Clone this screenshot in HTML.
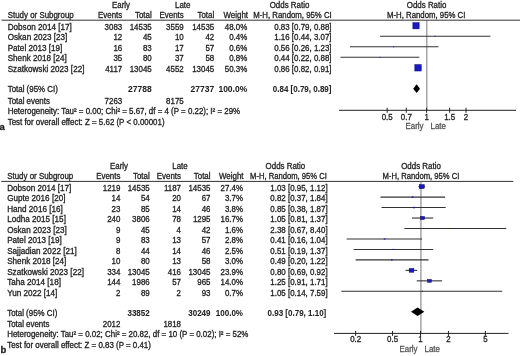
<!DOCTYPE html>
<html><head><meta charset="utf-8"><style>
html,body{margin:0;padding:0;background:#fff;width:520px;height:356px;overflow:hidden}
svg{display:block}
text{font-family:"Liberation Sans",sans-serif;font-size:8.2px;fill:#222;stroke:#222;stroke-width:0.3px}
svg{filter:blur(0.3px)}
text.b{font-weight:bold;stroke-width:0.05px}
text.L{font-weight:bold;font-size:9.5px}
text.s{font-size:8.2px;fill:#555;stroke:#555}
</style></head><body>
<svg width="520" height="356" viewBox="0 0 520 356">
<text x="121.00" y="7.50" text-anchor="middle" textLength="18.04" lengthAdjust="spacingAndGlyphs">Early</text>
<text x="182.75" y="7.50" text-anchor="middle" textLength="15.41" lengthAdjust="spacingAndGlyphs">Late</text>
<text x="289.50" y="7.50" text-anchor="middle" textLength="39.62" lengthAdjust="spacingAndGlyphs">Odds Ratio</text>
<text x="426.60" y="7.50" text-anchor="middle" textLength="39.62" lengthAdjust="spacingAndGlyphs">Odds Ratio</text>
<text x="7.70" y="18.00" textLength="66.04" lengthAdjust="spacingAndGlyphs">Study or Subgroup</text>
<text x="122.20" y="18.00" text-anchor="end" textLength="24.21" lengthAdjust="spacingAndGlyphs">Events</text>
<text x="151.70" y="18.00" text-anchor="end" textLength="16.73" lengthAdjust="spacingAndGlyphs">Total</text>
<text x="183.70" y="18.00" text-anchor="end" textLength="24.21" lengthAdjust="spacingAndGlyphs">Events</text>
<text x="214.20" y="18.00" text-anchor="end" textLength="16.73" lengthAdjust="spacingAndGlyphs">Total</text>
<text x="248.00" y="18.00" text-anchor="end" textLength="24.51" lengthAdjust="spacingAndGlyphs">Weight</text>
<text x="292.50" y="18.00" text-anchor="middle" textLength="78.46" lengthAdjust="spacingAndGlyphs">M-H, Random, 95% CI</text>
<text x="426.20" y="18.00" text-anchor="middle" textLength="78.46" lengthAdjust="spacingAndGlyphs">M-H, Random, 95% CI</text>
<line x1="1.50" y1="20.20" x2="520.00" y2="20.20" stroke="#333" stroke-width="1"/>
<line x1="426.85" y1="20.20" x2="426.85" y2="110.30" stroke="#777" stroke-width="1"/>
<text x="7.70" y="29.50" textLength="64.11" lengthAdjust="spacingAndGlyphs">Dobson 2014 [17]</text>
<text x="122.20" y="29.50" text-anchor="end" textLength="17.62" lengthAdjust="spacingAndGlyphs">3083</text>
<text x="151.70" y="29.50" text-anchor="end" textLength="22.02" lengthAdjust="spacingAndGlyphs">14535</text>
<text x="183.70" y="29.50" text-anchor="end" textLength="17.62" lengthAdjust="spacingAndGlyphs">3559</text>
<text x="214.20" y="29.50" text-anchor="end" textLength="22.02" lengthAdjust="spacingAndGlyphs">14535</text>
<text x="247.20" y="29.50" text-anchor="end" textLength="22.46" lengthAdjust="spacingAndGlyphs">48.0%</text>
<text x="331.50" y="29.50" text-anchor="end" textLength="57.25" lengthAdjust="spacingAndGlyphs">0.83 [0.79, 0.88]</text>
<line x1="413.19" y1="25.76" x2="419.33" y2="25.76" stroke="#333" stroke-width="1.1"/>
<rect x="412.88" y="22.64" width="6.24" height="6.24" fill="#1a1ac0" stroke="#000070" stroke-width="0.5"/>
<text x="7.70" y="40.00" textLength="59.59" lengthAdjust="spacingAndGlyphs">Oskan 2023 [23]</text>
<text x="122.20" y="40.00" text-anchor="end" textLength="8.81" lengthAdjust="spacingAndGlyphs">12</text>
<text x="151.70" y="40.00" text-anchor="end" textLength="8.81" lengthAdjust="spacingAndGlyphs">45</text>
<text x="183.70" y="40.00" text-anchor="end" textLength="8.81" lengthAdjust="spacingAndGlyphs">10</text>
<text x="214.20" y="40.00" text-anchor="end" textLength="8.81" lengthAdjust="spacingAndGlyphs">42</text>
<text x="247.20" y="40.00" text-anchor="end" textLength="18.05" lengthAdjust="spacingAndGlyphs">0.4%</text>
<text x="331.50" y="40.00" text-anchor="end" textLength="57.25" lengthAdjust="spacingAndGlyphs">1.16 [0.44, 3.07]</text>
<line x1="379.89" y1="36.28" x2="490.42" y2="36.28" stroke="#333" stroke-width="1.1"/>
<rect x="434.55" y="35.78" width="1.00" height="1.00" fill="#1a1ac0"/>
<text x="7.70" y="50.50" textLength="54.63" lengthAdjust="spacingAndGlyphs">Patel 2013 [19]</text>
<text x="122.20" y="50.50" text-anchor="end" textLength="8.81" lengthAdjust="spacingAndGlyphs">16</text>
<text x="151.70" y="50.50" text-anchor="end" textLength="8.81" lengthAdjust="spacingAndGlyphs">83</text>
<text x="183.70" y="50.50" text-anchor="end" textLength="8.81" lengthAdjust="spacingAndGlyphs">17</text>
<text x="214.20" y="50.50" text-anchor="end" textLength="8.81" lengthAdjust="spacingAndGlyphs">57</text>
<text x="247.20" y="50.50" text-anchor="end" textLength="18.05" lengthAdjust="spacingAndGlyphs">0.6%</text>
<text x="331.50" y="50.50" text-anchor="end" textLength="57.25" lengthAdjust="spacingAndGlyphs">0.56 [0.26, 1.23]</text>
<line x1="349.95" y1="46.79" x2="438.38" y2="46.79" stroke="#333" stroke-width="1.1"/>
<rect x="393.11" y="46.29" width="1.00" height="1.00" fill="#1a1ac0"/>
<text x="7.70" y="61.00" textLength="59.14" lengthAdjust="spacingAndGlyphs">Shenk 2018 [24]</text>
<text x="122.20" y="61.00" text-anchor="end" textLength="8.81" lengthAdjust="spacingAndGlyphs">35</text>
<text x="151.70" y="61.00" text-anchor="end" textLength="8.81" lengthAdjust="spacingAndGlyphs">80</text>
<text x="183.70" y="61.00" text-anchor="end" textLength="8.81" lengthAdjust="spacingAndGlyphs">37</text>
<text x="214.20" y="61.00" text-anchor="end" textLength="8.81" lengthAdjust="spacingAndGlyphs">58</text>
<text x="247.20" y="61.00" text-anchor="end" textLength="18.05" lengthAdjust="spacingAndGlyphs">0.8%</text>
<text x="331.50" y="61.00" text-anchor="end" textLength="57.25" lengthAdjust="spacingAndGlyphs">0.44 [0.22, 0.88]</text>
<line x1="340.45" y1="57.31" x2="419.33" y2="57.31" stroke="#333" stroke-width="1.1"/>
<rect x="379.39" y="56.81" width="1.00" height="1.00" fill="#1a1ac0"/>
<text x="7.70" y="71.50" textLength="76.73" lengthAdjust="spacingAndGlyphs">Szatkowski 2023 [22]</text>
<text x="122.20" y="71.50" text-anchor="end" textLength="17.03" lengthAdjust="spacingAndGlyphs">4117</text>
<text x="151.70" y="71.50" text-anchor="end" textLength="22.02" lengthAdjust="spacingAndGlyphs">13045</text>
<text x="183.70" y="71.50" text-anchor="end" textLength="17.62" lengthAdjust="spacingAndGlyphs">4552</text>
<text x="214.20" y="71.50" text-anchor="end" textLength="22.02" lengthAdjust="spacingAndGlyphs">13045</text>
<text x="247.20" y="71.50" text-anchor="end" textLength="22.46" lengthAdjust="spacingAndGlyphs">50.3%</text>
<text x="331.50" y="71.50" text-anchor="end" textLength="57.25" lengthAdjust="spacingAndGlyphs">0.86 [0.82, 0.91]</text>
<line x1="415.31" y1="67.82" x2="421.23" y2="67.82" stroke="#333" stroke-width="1.1"/>
<rect x="414.83" y="64.63" width="6.38" height="6.38" fill="#1a1ac0" stroke="#000070" stroke-width="0.5"/>
<text x="7.70" y="92.30" textLength="50.18" lengthAdjust="spacingAndGlyphs">Total (95% CI)</text>
<text x="151.70" y="92.30" text-anchor="end" class="b" textLength="23.58" lengthAdjust="spacingAndGlyphs">27788</text>
<text x="214.20" y="92.30" text-anchor="end" class="b" textLength="23.58" lengthAdjust="spacingAndGlyphs">27737</text>
<text x="247.20" y="92.30" text-anchor="end" class="b" textLength="28.76" lengthAdjust="spacingAndGlyphs">100.0%</text>
<text x="331.50" y="92.30" text-anchor="end" class="b" textLength="58.71" lengthAdjust="spacingAndGlyphs">0.84 [0.79, 0.89]</text>
<polygon points="413.19,88.70 416.68,84.30 419.97,88.70 416.68,93.10" fill="#000"/>
<text x="7.70" y="103.70" textLength="42.26" lengthAdjust="spacingAndGlyphs">Total events</text>
<text x="122.20" y="103.70" text-anchor="end" textLength="17.62" lengthAdjust="spacingAndGlyphs">7263</text>
<text x="183.70" y="103.70" text-anchor="end" textLength="17.62" lengthAdjust="spacingAndGlyphs">8175</text>
<text x="7.70" y="114.40" textLength="232.39" lengthAdjust="spacingAndGlyphs">Heterogeneity: Tau² = 0.00; Chi² = 5.67, df = 4 (P = 0.22); I² = 29%</text>
<text x="7.70" y="124.70" textLength="156.88" lengthAdjust="spacingAndGlyphs">Test for overall effect: Z = 5.62 (P &lt; 0.00001)</text>
<text x="-0.40" y="130.00" class="L">a</text>
<line x1="339.00" y1="110.30" x2="516.00" y2="110.30" stroke="#222" stroke-width="1"/>
<line x1="387.16" y1="107.80" x2="387.16" y2="112.80" stroke="#222" stroke-width="1"/>
<text x="387.16" y="119.60" text-anchor="middle" textLength="11.01" lengthAdjust="spacingAndGlyphs">0.5</text>
<line x1="406.31" y1="107.80" x2="406.31" y2="112.80" stroke="#222" stroke-width="1"/>
<text x="406.31" y="119.60" text-anchor="middle" textLength="11.01" lengthAdjust="spacingAndGlyphs">0.7</text>
<line x1="426.60" y1="107.80" x2="426.60" y2="112.80" stroke="#222" stroke-width="1"/>
<text x="426.60" y="119.60" text-anchor="middle" textLength="4.40" lengthAdjust="spacingAndGlyphs">1</text>
<line x1="449.67" y1="107.80" x2="449.67" y2="112.80" stroke="#222" stroke-width="1"/>
<text x="449.67" y="119.60" text-anchor="middle" textLength="11.01" lengthAdjust="spacingAndGlyphs">1.5</text>
<line x1="466.04" y1="107.80" x2="466.04" y2="112.80" stroke="#222" stroke-width="1"/>
<text x="466.04" y="119.60" text-anchor="middle" textLength="4.40" lengthAdjust="spacingAndGlyphs">2</text>
<text x="423.50" y="128.50" text-anchor="end" class="s" textLength="18.04" lengthAdjust="spacingAndGlyphs">Early</text>
<text x="430.50" y="128.50" class="s" textLength="15.41" lengthAdjust="spacingAndGlyphs">Late</text>
<text x="119.00" y="168.80" text-anchor="middle" textLength="18.04" lengthAdjust="spacingAndGlyphs">Early</text>
<text x="180.00" y="168.80" text-anchor="middle" textLength="15.41" lengthAdjust="spacingAndGlyphs">Late</text>
<text x="285.40" y="168.80" text-anchor="middle" textLength="39.62" lengthAdjust="spacingAndGlyphs">Odds Ratio</text>
<text x="421.00" y="168.80" text-anchor="middle" textLength="39.62" lengthAdjust="spacingAndGlyphs">Odds Ratio</text>
<text x="7.20" y="179.00" textLength="66.04" lengthAdjust="spacingAndGlyphs">Study or Subgroup</text>
<text x="120.40" y="179.00" text-anchor="end" textLength="24.21" lengthAdjust="spacingAndGlyphs">Events</text>
<text x="149.70" y="179.00" text-anchor="end" textLength="16.73" lengthAdjust="spacingAndGlyphs">Total</text>
<text x="181.00" y="179.00" text-anchor="end" textLength="24.21" lengthAdjust="spacingAndGlyphs">Events</text>
<text x="210.50" y="179.00" text-anchor="end" textLength="16.73" lengthAdjust="spacingAndGlyphs">Total</text>
<text x="243.50" y="179.00" text-anchor="end" textLength="24.51" lengthAdjust="spacingAndGlyphs">Weight</text>
<text x="288.50" y="179.00" text-anchor="middle" textLength="76.85" lengthAdjust="spacingAndGlyphs">M-H, Random, 95% CI</text>
<text x="420.90" y="179.00" text-anchor="middle" textLength="76.85" lengthAdjust="spacingAndGlyphs">M-H, Random, 95% CI</text>
<line x1="1.20" y1="181.40" x2="513.30" y2="181.40" stroke="#333" stroke-width="1"/>
<line x1="420.95" y1="181.40" x2="420.95" y2="333.40" stroke="#777" stroke-width="1"/>
<text x="7.20" y="190.90" textLength="64.11" lengthAdjust="spacingAndGlyphs">Dobson 2014 [17]</text>
<text x="120.40" y="190.90" text-anchor="end" textLength="17.62" lengthAdjust="spacingAndGlyphs">1219</text>
<text x="149.70" y="190.90" text-anchor="end" textLength="22.02" lengthAdjust="spacingAndGlyphs">14535</text>
<text x="181.00" y="190.90" text-anchor="end" textLength="17.03" lengthAdjust="spacingAndGlyphs">1187</text>
<text x="210.50" y="190.90" text-anchor="end" textLength="22.02" lengthAdjust="spacingAndGlyphs">14535</text>
<text x="243.00" y="190.90" text-anchor="end" textLength="22.46" lengthAdjust="spacingAndGlyphs">27.4%</text>
<text x="327.60" y="190.90" text-anchor="end" textLength="57.25" lengthAdjust="spacingAndGlyphs">1.03 [0.95, 1.12]</text>
<line x1="418.43" y1="186.63" x2="425.07" y2="186.63" stroke="#333" stroke-width="1.1"/>
<rect x="419.20" y="184.67" width="4.97" height="3.93" fill="#1a1ac0" stroke="#000070" stroke-width="0.5"/>
<text x="7.20" y="201.36" textLength="58.24" lengthAdjust="spacingAndGlyphs">Gupte 2016 [20]</text>
<text x="120.40" y="201.36" text-anchor="end" textLength="8.81" lengthAdjust="spacingAndGlyphs">14</text>
<text x="149.70" y="201.36" text-anchor="end" textLength="8.81" lengthAdjust="spacingAndGlyphs">54</text>
<text x="181.00" y="201.36" text-anchor="end" textLength="8.81" lengthAdjust="spacingAndGlyphs">20</text>
<text x="210.50" y="201.36" text-anchor="end" textLength="8.81" lengthAdjust="spacingAndGlyphs">67</text>
<text x="243.00" y="201.36" text-anchor="end" textLength="18.05" lengthAdjust="spacingAndGlyphs">3.7%</text>
<text x="327.60" y="201.36" text-anchor="end" textLength="57.25" lengthAdjust="spacingAndGlyphs">0.82 [0.37, 1.84]</text>
<line x1="380.43" y1="197.10" x2="445.07" y2="197.10" stroke="#333" stroke-width="1.1"/>
<rect x="411.59" y="196.38" width="1.83" height="1.44" fill="#1a1ac0"/>
<text x="7.20" y="211.82" textLength="55.53" lengthAdjust="spacingAndGlyphs">Hand 2016 [16]</text>
<text x="120.40" y="211.82" text-anchor="end" textLength="8.81" lengthAdjust="spacingAndGlyphs">23</text>
<text x="149.70" y="211.82" text-anchor="end" textLength="8.81" lengthAdjust="spacingAndGlyphs">85</text>
<text x="181.00" y="211.82" text-anchor="end" textLength="8.81" lengthAdjust="spacingAndGlyphs">14</text>
<text x="210.50" y="211.82" text-anchor="end" textLength="8.81" lengthAdjust="spacingAndGlyphs">46</text>
<text x="243.00" y="211.82" text-anchor="end" textLength="18.05" lengthAdjust="spacingAndGlyphs">3.8%</text>
<text x="327.60" y="211.82" text-anchor="end" textLength="57.25" lengthAdjust="spacingAndGlyphs">0.85 [0.38, 1.87]</text>
<line x1="381.51" y1="207.57" x2="445.73" y2="207.57" stroke="#333" stroke-width="1.1"/>
<rect x="413.02" y="206.84" width="1.85" height="1.46" fill="#1a1ac0"/>
<text x="7.20" y="222.28" textLength="58.70" lengthAdjust="spacingAndGlyphs">Lodha 2015 [15]</text>
<text x="120.40" y="222.28" text-anchor="end" textLength="13.21" lengthAdjust="spacingAndGlyphs">240</text>
<text x="149.70" y="222.28" text-anchor="end" textLength="17.62" lengthAdjust="spacingAndGlyphs">3806</text>
<text x="181.00" y="222.28" text-anchor="end" textLength="8.81" lengthAdjust="spacingAndGlyphs">78</text>
<text x="210.50" y="222.28" text-anchor="end" textLength="17.62" lengthAdjust="spacingAndGlyphs">1295</text>
<text x="243.00" y="222.28" text-anchor="end" textLength="22.46" lengthAdjust="spacingAndGlyphs">16.7%</text>
<text x="327.60" y="222.28" text-anchor="end" textLength="57.25" lengthAdjust="spacingAndGlyphs">1.05 [0.81, 1.37]</text>
<line x1="412.01" y1="218.04" x2="433.19" y2="218.04" stroke="#333" stroke-width="1.1"/>
<rect x="420.53" y="216.50" width="3.88" height="3.06" fill="#1a1ac0" stroke="#000070" stroke-width="0.5"/>
<text x="7.20" y="232.74" textLength="59.59" lengthAdjust="spacingAndGlyphs">Oskan 2023 [23]</text>
<text x="120.40" y="232.74" text-anchor="end" textLength="4.40" lengthAdjust="spacingAndGlyphs">9</text>
<text x="149.70" y="232.74" text-anchor="end" textLength="8.81" lengthAdjust="spacingAndGlyphs">45</text>
<text x="181.00" y="232.74" text-anchor="end" textLength="4.40" lengthAdjust="spacingAndGlyphs">4</text>
<text x="210.50" y="232.74" text-anchor="end" textLength="8.81" lengthAdjust="spacingAndGlyphs">42</text>
<text x="243.00" y="232.74" text-anchor="end" textLength="18.05" lengthAdjust="spacingAndGlyphs">1.6%</text>
<text x="327.60" y="232.74" text-anchor="end" textLength="57.25" lengthAdjust="spacingAndGlyphs">2.38 [0.67, 8.40]</text>
<line x1="404.36" y1="228.51" x2="506.27" y2="228.51" stroke="#333" stroke-width="1.1"/>
<rect x="454.84" y="228.01" width="1.20" height="1.00" fill="#1a1ac0"/>
<text x="7.20" y="243.20" textLength="54.63" lengthAdjust="spacingAndGlyphs">Patel 2013 [19]</text>
<text x="120.40" y="243.20" text-anchor="end" textLength="4.40" lengthAdjust="spacingAndGlyphs">9</text>
<text x="149.70" y="243.20" text-anchor="end" textLength="8.81" lengthAdjust="spacingAndGlyphs">83</text>
<text x="181.00" y="243.20" text-anchor="end" textLength="8.81" lengthAdjust="spacingAndGlyphs">13</text>
<text x="210.50" y="243.20" text-anchor="end" textLength="8.81" lengthAdjust="spacingAndGlyphs">57</text>
<text x="243.00" y="243.20" text-anchor="end" textLength="18.05" lengthAdjust="spacingAndGlyphs">2.8%</text>
<text x="327.60" y="243.20" text-anchor="end" textLength="57.25" lengthAdjust="spacingAndGlyphs">0.41 [0.16, 1.04]</text>
<line x1="346.65" y1="238.97" x2="422.08" y2="238.97" stroke="#333" stroke-width="1.1"/>
<rect x="383.77" y="238.35" width="1.59" height="1.25" fill="#1a1ac0"/>
<text x="7.20" y="253.66" textLength="69.53" lengthAdjust="spacingAndGlyphs">Sajjadian 2022 [21]</text>
<text x="120.40" y="253.66" text-anchor="end" textLength="4.40" lengthAdjust="spacingAndGlyphs">8</text>
<text x="149.70" y="253.66" text-anchor="end" textLength="8.81" lengthAdjust="spacingAndGlyphs">44</text>
<text x="181.00" y="253.66" text-anchor="end" textLength="8.81" lengthAdjust="spacingAndGlyphs">14</text>
<text x="210.50" y="253.66" text-anchor="end" textLength="8.81" lengthAdjust="spacingAndGlyphs">46</text>
<text x="243.00" y="253.66" text-anchor="end" textLength="18.05" lengthAdjust="spacingAndGlyphs">2.5%</text>
<text x="327.60" y="253.66" text-anchor="end" textLength="57.25" lengthAdjust="spacingAndGlyphs">0.51 [0.19, 1.37]</text>
<line x1="353.57" y1="249.44" x2="433.19" y2="249.44" stroke="#333" stroke-width="1.1"/>
<rect x="392.61" y="248.85" width="1.50" height="1.19" fill="#1a1ac0"/>
<text x="7.20" y="264.12" textLength="59.14" lengthAdjust="spacingAndGlyphs">Shenk 2018 [24]</text>
<text x="120.40" y="264.12" text-anchor="end" textLength="8.81" lengthAdjust="spacingAndGlyphs">10</text>
<text x="149.70" y="264.12" text-anchor="end" textLength="8.81" lengthAdjust="spacingAndGlyphs">80</text>
<text x="181.00" y="264.12" text-anchor="end" textLength="8.81" lengthAdjust="spacingAndGlyphs">13</text>
<text x="210.50" y="264.12" text-anchor="end" textLength="8.81" lengthAdjust="spacingAndGlyphs">58</text>
<text x="243.00" y="264.12" text-anchor="end" textLength="18.05" lengthAdjust="spacingAndGlyphs">3.0%</text>
<text x="327.60" y="264.12" text-anchor="end" textLength="57.25" lengthAdjust="spacingAndGlyphs">0.49 [0.20, 1.22]</text>
<line x1="355.64" y1="259.91" x2="428.51" y2="259.91" stroke="#333" stroke-width="1.1"/>
<rect x="390.93" y="259.26" width="1.65" height="1.30" fill="#1a1ac0"/>
<text x="7.20" y="274.58" textLength="76.73" lengthAdjust="spacingAndGlyphs">Szatkowski 2023 [22]</text>
<text x="120.40" y="274.58" text-anchor="end" textLength="13.21" lengthAdjust="spacingAndGlyphs">334</text>
<text x="149.70" y="274.58" text-anchor="end" textLength="22.02" lengthAdjust="spacingAndGlyphs">13045</text>
<text x="181.00" y="274.58" text-anchor="end" textLength="13.21" lengthAdjust="spacingAndGlyphs">416</text>
<text x="210.50" y="274.58" text-anchor="end" textLength="22.02" lengthAdjust="spacingAndGlyphs">13045</text>
<text x="243.00" y="274.58" text-anchor="end" textLength="22.46" lengthAdjust="spacingAndGlyphs">23.9%</text>
<text x="327.60" y="274.58" text-anchor="end" textLength="57.25" lengthAdjust="spacingAndGlyphs">0.80 [0.69, 0.92]</text>
<line x1="405.55" y1="270.38" x2="417.14" y2="270.38" stroke="#333" stroke-width="1.1"/>
<rect x="409.19" y="268.55" width="4.64" height="3.67" fill="#1a1ac0" stroke="#000070" stroke-width="0.5"/>
<text x="7.20" y="285.04" textLength="53.73" lengthAdjust="spacingAndGlyphs">Taha 2014 [18]</text>
<text x="120.40" y="285.04" text-anchor="end" textLength="13.21" lengthAdjust="spacingAndGlyphs">144</text>
<text x="149.70" y="285.04" text-anchor="end" textLength="17.62" lengthAdjust="spacingAndGlyphs">1986</text>
<text x="181.00" y="285.04" text-anchor="end" textLength="8.81" lengthAdjust="spacingAndGlyphs">57</text>
<text x="210.50" y="285.04" text-anchor="end" textLength="13.21" lengthAdjust="spacingAndGlyphs">965</text>
<text x="243.00" y="285.04" text-anchor="end" textLength="22.46" lengthAdjust="spacingAndGlyphs">14.0%</text>
<text x="327.60" y="285.04" text-anchor="end" textLength="57.25" lengthAdjust="spacingAndGlyphs">1.25 [0.91, 1.71]</text>
<line x1="416.70" y1="280.85" x2="442.12" y2="280.85" stroke="#333" stroke-width="1.1"/>
<rect x="427.72" y="279.45" width="3.55" height="2.81" fill="#1a1ac0" stroke="#000070" stroke-width="0.5"/>
<text x="7.20" y="295.50" textLength="50.12" lengthAdjust="spacingAndGlyphs">Yun 2022 [14]</text>
<text x="120.40" y="295.50" text-anchor="end" textLength="4.40" lengthAdjust="spacingAndGlyphs">2</text>
<text x="149.70" y="295.50" text-anchor="end" textLength="8.81" lengthAdjust="spacingAndGlyphs">89</text>
<text x="181.00" y="295.50" text-anchor="end" textLength="4.40" lengthAdjust="spacingAndGlyphs">2</text>
<text x="210.50" y="295.50" text-anchor="end" textLength="8.81" lengthAdjust="spacingAndGlyphs">93</text>
<text x="243.00" y="295.50" text-anchor="end" textLength="18.05" lengthAdjust="spacingAndGlyphs">0.7%</text>
<text x="327.60" y="295.50" text-anchor="end" textLength="57.25" lengthAdjust="spacingAndGlyphs">1.05 [0.14, 7.59]</text>
<line x1="341.27" y1="291.32" x2="502.18" y2="291.32" stroke="#333" stroke-width="1.1"/>
<rect x="421.97" y="290.82" width="1.00" height="1.00" fill="#1a1ac0"/>
<text x="7.20" y="315.50" textLength="50.18" lengthAdjust="spacingAndGlyphs">Total (95% CI)</text>
<text x="149.70" y="315.50" text-anchor="end" class="b" textLength="22.25" lengthAdjust="spacingAndGlyphs">33852</text>
<text x="210.50" y="315.50" text-anchor="end" class="b" textLength="22.25" lengthAdjust="spacingAndGlyphs">30249</text>
<text x="243.00" y="315.50" text-anchor="end" class="b" textLength="27.13" lengthAdjust="spacingAndGlyphs">100.0%</text>
<text x="326.30" y="315.50" text-anchor="end" class="b" textLength="58.71" lengthAdjust="spacingAndGlyphs">0.93 [0.79, 1.10]</text>
<polygon points="411.00,311.80 417.58,307.50 424.34,311.80 417.58,316.10" fill="#000"/>
<text x="7.20" y="327.00" textLength="42.26" lengthAdjust="spacingAndGlyphs">Total events</text>
<text x="120.40" y="327.00" text-anchor="end" textLength="17.62" lengthAdjust="spacingAndGlyphs">2012</text>
<text x="181.00" y="327.00" text-anchor="end" textLength="17.62" lengthAdjust="spacingAndGlyphs">1818</text>
<text x="7.20" y="337.30" textLength="241.20" lengthAdjust="spacingAndGlyphs">Heterogeneity: Tau² = 0.02; Chi² = 20.82, df = 10 (P = 0.02); I² = 52%</text>
<text x="7.20" y="348.00" textLength="143.66" lengthAdjust="spacingAndGlyphs">Test for overall effect: Z = 0.83 (P = 0.41)</text>
<text x="0.50" y="353.00" class="L">b</text>
<line x1="334.00" y1="333.40" x2="508.50" y2="333.40" stroke="#222" stroke-width="1"/>
<line x1="355.64" y1="330.90" x2="355.64" y2="335.90" stroke="#222" stroke-width="1"/>
<text x="355.64" y="342.30" text-anchor="middle" textLength="11.01" lengthAdjust="spacingAndGlyphs">0.2</text>
<line x1="392.57" y1="330.90" x2="392.57" y2="335.90" stroke="#222" stroke-width="1"/>
<text x="392.57" y="342.30" text-anchor="middle" textLength="11.01" lengthAdjust="spacingAndGlyphs">0.5</text>
<line x1="420.50" y1="330.90" x2="420.50" y2="335.90" stroke="#222" stroke-width="1"/>
<text x="420.50" y="342.30" text-anchor="middle" textLength="4.40" lengthAdjust="spacingAndGlyphs">1</text>
<line x1="448.43" y1="330.90" x2="448.43" y2="335.90" stroke="#222" stroke-width="1"/>
<text x="448.43" y="342.30" text-anchor="middle" textLength="4.40" lengthAdjust="spacingAndGlyphs">2</text>
<line x1="485.36" y1="330.90" x2="485.36" y2="335.90" stroke="#222" stroke-width="1"/>
<text x="485.36" y="342.30" text-anchor="middle" textLength="4.40" lengthAdjust="spacingAndGlyphs">5</text>
<text x="417.50" y="352.00" text-anchor="end" class="s" textLength="18.04" lengthAdjust="spacingAndGlyphs">Early</text>
<text x="424.50" y="352.00" class="s" textLength="15.41" lengthAdjust="spacingAndGlyphs">Late</text>
</svg></body></html>
